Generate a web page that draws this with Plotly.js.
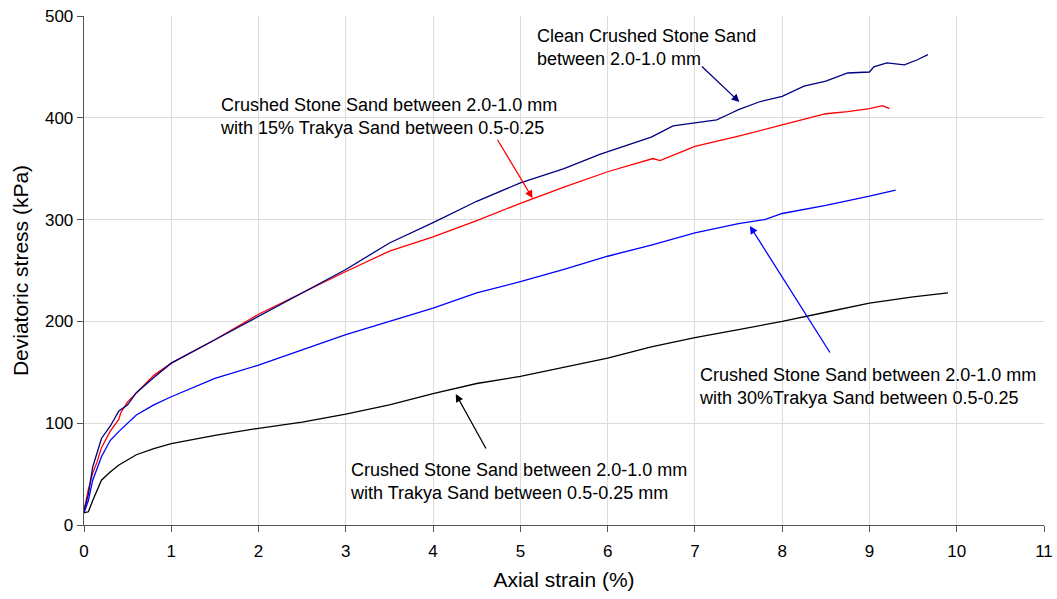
<!DOCTYPE html>
<html><head><meta charset="utf-8">
<script src="https://cdn.plot.ly/plotly-3.0.1.min.js"></script>
<style>html,body{margin:0;padding:0;background:#fff}#chart{width:1057px;height:599px}</style>
</head><body><div id="chart"></div>
<script>
// Clean Crushed Stone Sand 2.0-1.0 mm
const strainClean = [0, 0.05, 0.1, 0.15, 0.2, 0.3, 0.4, 0.5, 0.6, 0.8, 1.0, 1.5, 2.0, 2.5, 3.0, 3.5, 4.0, 4.5, 5.0, 5.5, 5.91, 6.5, 6.75, 7.0, 7.25, 7.4, 7.5, 7.75, 8.0, 8.25, 8.5, 8.75, 9.0, 9.05, 9.2, 9.4, 9.55, 9.67];
const stressClean = [14, 30, 57, 70, 85, 97, 112, 118, 130, 145, 159, 182, 205, 228, 251, 277, 297, 318, 336, 350, 364, 381, 392, 395, 398, 404, 408, 416, 421, 431, 436, 444, 445, 450, 454, 452, 457, 462];
// 15% Trakya sand
const strain15 = [0, 0.05, 0.1, 0.15, 0.2, 0.3, 0.4, 0.42, 0.5, 0.6, 0.8, 1.0, 1.5, 2.0, 2.5, 3.0, 3.5, 4.0, 4.5, 5.0, 5.5, 6.0, 6.52, 6.6, 7.0, 7.5, 8.0, 8.5, 8.75, 9.0, 9.15, 9.23];
const stress15 = [14, 35, 51, 62, 76, 92, 104, 110, 121, 130, 147, 159, 182, 207, 228, 249, 269, 283, 299, 316, 332, 347, 360, 358, 372, 382, 393, 404, 406, 409, 412, 409];
// 30% Trakya sand
const strain30 = [0, 0.05, 0.1, 0.2, 0.3, 0.4, 0.6, 0.8, 1.0, 1.5, 2.0, 2.5, 3.0, 3.5, 4.0, 4.5, 5.0, 5.5, 6.0, 6.5, 7.0, 7.5, 7.8, 8.0, 8.5, 9.0, 9.3];
const stress30 = [12, 24, 44, 67, 83, 92, 108, 118, 126, 144, 157, 172, 187, 200, 213, 228, 239, 251, 264, 275, 287, 296, 300, 306, 314, 323, 329];
// Trakya sand (black)
const strainT = [0, 0.05, 0.1, 0.2, 0.3, 0.4, 0.6, 0.8, 1.0, 1.5, 2.0, 2.5, 3.0, 3.5, 4.0, 4.5, 5.0, 5.5, 6.0, 6.5, 7.0, 7.5, 8.0, 8.5, 9.0, 9.5, 9.9];
const stressT = [12, 13, 24, 44, 52, 59, 69, 75, 80, 88, 95, 101, 109, 118, 129, 139, 146, 155, 164, 175, 184, 192, 200, 209, 218, 224, 228];

const xTicks = [0,1,2,3,4,5,6,7,8,9,10,11];
const yTicks = [0,100,200,300,400,500];

const labels = [
  "Clean Crushed Stone Sand<br>between 2.0-1.0 mm",
  "Crushed Stone Sand between 2.0-1.0 mm<br>with 15% Trakya Sand between 0.5-0.25",
  "Crushed Stone Sand between 2.0-1.0 mm<br>with 30%Trakya Sand between 0.5-0.25",
  "Crushed Stone Sand between 2.0-1.0 mm<br>with Trakya Sand between 0.5-0.25 mm"
];
const colors = ['#000080', '#ff0000', '#0000ff', '#000000'];

const mk = (x, y, c) => ({x, y, type:'scatter', mode:'lines', line:{color:c, width:1.3}, hoverinfo:'skip'});
const data = [
  mk(strainT, stressT, colors[3]),
  mk(strain30, stress30, colors[2]),
  mk(strain15, stress15, colors[1]),
  mk(strainClean, stressClean, colors[0])
];

const font = {family:'"Liberation Sans", Arial, sans-serif', color:'#000'};
const arrow = (x, y, ax, ay, c) => ({x, y, ax, ay, xref:'x', yref:'y', axref:'pixel', ayref:'pixel', text:'', showarrow:true, arrowhead:2, arrowsize:1.2, arrowwidth:1.3, arrowcolor:c});
const txt = (x, y, t) => ({x, y, xref:'x', yref:'y', text:t, showarrow:false, xanchor:'left', yanchor:'middle', align:'left', font:Object.assign({size:18}, font)});

const layout = {
  width:1057, height:599,
  margin:{l:84, r:13, t:16, b:74},
  paper_bgcolor:'#fff', plot_bgcolor:'#fff',
  showlegend:false,
  font: Object.assign({size:17}, font),
  xaxis:{range:[0,11], tickvals:xTicks, ticktext:xTicks.map(String), showgrid:true, gridcolor:'#dcdcdc', gridwidth:1,
    showline:true, linecolor:'#555', linewidth:1.3, ticks:'outside', ticklen:6, tickcolor:'#555', zeroline:false, ticklabelstandoff:4,
    tickfont:Object.assign({size:17}, font), title:{text:'Axial strain (%)', font:Object.assign({size:21}, font), standoff:12}},
  yaxis:{range:[0,500], tickvals:yTicks, ticktext:yTicks.map(String), showgrid:true, gridcolor:'#dcdcdc', gridwidth:1,
    showline:true, linecolor:'#555', linewidth:1.3, ticks:'outside', ticklen:6, tickcolor:'#555', zeroline:false,
    tickfont:Object.assign({size:17}, font), title:{text:'Deviatoric stress (kPa)', font:Object.assign({size:21}, font), standoff:10}},
  annotations:[
    arrow(7.51, 415.5, -39, -37, colors[0]),
    arrow(5.14, 321, -36, -60, colors[1]),
    arrow(7.63, 293.7, 81, 128, colors[2]),
    arrow(4.26, 128.7, 31, 56, colors[3]),
    txt(5.166, 469, labels[0]),
    txt(1.536, 400.8, labels[1]),
    txt(7.02, 135.6, labels[2]),
    txt(3.026, 43.2, labels[3])
  ]
};
Plotly.newPlot('chart', data, layout, {displayModeBar:false, staticPlot:true});
</script></body></html>
